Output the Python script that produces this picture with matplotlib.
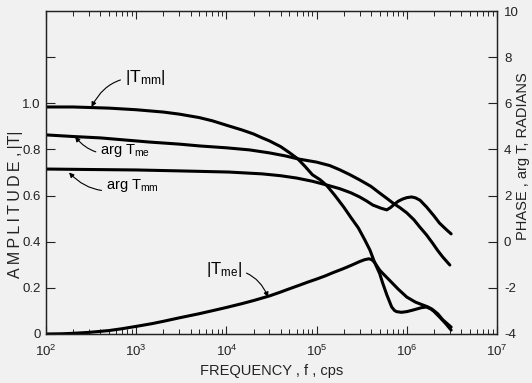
import matplotlib
matplotlib.use("Agg")
import matplotlib.pyplot as plt

plt.rcParams['font.family'] = ['Liberation Sans', 'DejaVu Sans']
plt.rcParams['mathtext.default'] = 'regular'

# |T_mm| amplitude vs frequency (cps)
f_tmm_amp = [1e2, 2e2, 5e2, 1e3, 2e3, 3e3, 5e3, 7e3, 1e4, 1.5e4, 2e4, 2.5e4, 3e4,
             4e4, 5e4, 6.2e4, 7.5e4, 9e4, 1.1e5, 1.3e5, 1.6e5, 2e5, 2.4e5, 2.9e5,
             3.4e5, 3.9e5, 4.4e5, 5e5, 5.4e5, 6e5, 6.8e5, 7.3e5, 7.7e5, 8.7e5,
             1e6, 1.15e6, 1.28e6, 1.45e6, 1.65e6, 1.85e6, 2e6, 2.3e6, 2.7e6, 3.1e6]
tmm_amp = [0.984, 0.984, 0.979, 0.972, 0.962, 0.953, 0.938, 0.924, 0.905, 0.884,
           0.867, 0.850, 0.837, 0.812, 0.786, 0.759, 0.725, 0.690, 0.668, 0.643,
           0.600, 0.550, 0.505, 0.460, 0.410, 0.364, 0.310, 0.262, 0.221, 0.170,
           0.117, 0.102, 0.097, 0.094, 0.097, 0.103, 0.108, 0.114, 0.117, 0.108,
           0.098, 0.074, 0.045, 0.017]

# |T_me| amplitude vs frequency (cps)
f_tme_amp = [1e2, 1.5e2, 2e2, 3e2, 5e2, 7e2, 1e3, 1.5e3, 2e3, 3e3, 5e3, 7e3, 1e4,
             1.5e4, 2e4, 3e4, 4e4, 5e4, 6.5e4, 8e4, 1e5, 1.25e5, 1.5e5, 2e5, 2.5e5,
             3e5, 3.4e5, 3.8e5, 4.1e5, 4.4e5, 5e5, 5.5e5, 6.4e5, 8e5, 1e6, 1.25e6,
             1.5e6, 1.7e6, 1.9e6, 2.2e6, 2.5e6, 2.8e6, 3.1e6]
tme_amp = [0.0, 0.001, 0.003, 0.007, 0.015, 0.023, 0.033, 0.045, 0.055, 0.070,
           0.088, 0.101, 0.115, 0.132, 0.145, 0.165, 0.182, 0.196, 0.212, 0.225,
           0.238, 0.252, 0.265, 0.284, 0.300, 0.314, 0.322, 0.326, 0.322, 0.310,
           0.277, 0.260, 0.234, 0.195, 0.160, 0.138, 0.126, 0.118, 0.108, 0.088,
           0.062, 0.045, 0.030]

# arg T_me phase (radians)
f_tme_arg = [1e2, 2e2, 4e2, 8e2, 1.4e3, 3e3, 5.1e3, 1e4, 1.8e4, 3e4, 4.5e4, 6.2e4,
             1e5, 1.4e5, 1.8e5, 2.3e5, 3e5, 4e5, 5e5, 6e5, 7e5, 8.5e5, 1e6, 1.2e6,
             1.39e6, 1.65e6, 1.93e6, 2.2e6, 2.5e6, 3e6]
tme_arg = [4.63, 4.56, 4.50, 4.40, 4.32, 4.23, 4.15, 4.07, 3.98, 3.85, 3.72, 3.59,
           3.45, 3.30, 3.12, 2.92, 2.68, 2.40, 2.11, 1.88, 1.68, 1.46, 1.25, 0.95,
           0.64, 0.30, -0.06, -0.38, -0.66, -1.01]

# arg T_mm phase (radians)
f_tmm_arg = [1e2, 3e2, 1e3, 3e3, 1.06e4, 2.5e4, 4e4, 6e4, 9e4, 1.29e5, 1.8e5,
             2.4e5, 3e5, 3.6e5, 4.2e5, 5.2e5, 6e5, 6.6e5, 7.3e5, 8e5, 9e5, 1e6,
             1.13e6, 1.25e6, 1.4e6, 1.66e6, 2e6, 2.3e6, 2.7e6, 3.1e6]
tmm_arg = [3.15, 3.13, 3.11, 3.07, 3.02, 2.94, 2.86, 2.76, 2.62, 2.46, 2.30, 2.12,
           1.94, 1.76, 1.59, 1.45, 1.38, 1.48, 1.63, 1.75, 1.85, 1.91, 1.94, 1.90,
           1.80, 1.50, 1.12, 0.81, 0.55, 0.34]

amp_ticks = [0, 0.2, 0.4, 0.6, 0.8, 1.0, 1.2]
amp_ticklabels = ['0', '0.2', '0.4', '0.6', '0.8', '1.0', '']
phase_ticks = [-4, -2, 0, 2, 4, 6, 8, 10]

bg = '#f1f1f1'
ink = '#222222'
fig = plt.figure(figsize=(5.32, 3.83), dpi=100, facecolor=bg)
ax = fig.add_axes([46 / 532, 1 - 334 / 383, (497 - 46) / 532, (334 - 11) / 383])
ax.set_facecolor(bg)
ax2 = ax.twinx()

style = dict(color='black', lw=2.2, solid_joinstyle='round', solid_capstyle='round')
ax.plot(f_tmm_amp, tmm_amp, **style)
ax.plot(f_tme_amp, tme_amp, **style)
ax2.plot(f_tme_arg, tme_arg, **style)
ax2.plot(f_tmm_arg, tmm_arg, **style)

ax.set_xscale('log')
ax.set_xlim(1e2, 1e7)
ax.set_ylim(0, 1.4)
ax2.set_ylim(-4, 10)

ax.set_yticks(amp_ticks)
ax.set_yticklabels(amp_ticklabels)
ax2.set_yticks(phase_ticks)
ax2.set_yticklabels([str(t) for t in phase_ticks])

for a in (ax, ax2):
    for s in a.spines.values():
        s.set_color(ink)
        s.set_linewidth(0.9)

ax.tick_params(axis='x', which='major', direction='in', top=True, bottom=True,
               length=6, width=0.8, pad=7, labelsize=9.5, color=ink, labelcolor=ink)
ax.tick_params(axis='x', which='minor', direction='in', top=True, bottom=True,
               length=3.5, width=0.7, color=ink)
ax.tick_params(axis='y', which='major', direction='in', left=True, right=False,
               length=6.5, width=0.8, pad=4, labelsize=9.5, color=ink, labelcolor=ink)
ax2.tick_params(axis='y', which='major', direction='in', right=True, left=False,
                length=6.5, width=0.8, pad=5, labelsize=9.5, color=ink, labelcolor=ink)
ax2.tick_params(axis='y', which='minor', right=False)

# widely tracked amplitude label, letters separated by thin spaces
amp_label = '\u2009'.join('AMPLITUDE') + ' ,\u2009|T|'
ax.set_xlabel('FREQUENCY , f , cps', fontsize=10.5, labelpad=4, color=ink)
ax.set_ylabel(amp_label, fontsize=11.5, color=ink)
ax.yaxis.set_label_coords(-0.051, 0.40)
ax2.set_ylabel('PHASE , arg T, RADIANS', fontsize=10.5, color=ink)
ax2.yaxis.set_label_coords(1.042, 0.55)

arrow = dict(arrowstyle='-|>', color='black', lw=0.8, mutation_scale=7,
             shrinkA=1, shrinkB=0)
ax.annotate('$|T_{mm}|$', xy=(3.2e2, 0.984), xytext=(1.25e3, 1.11), fontsize=12.5,
            ha='center', va='center',
            arrowprops=dict(connectionstyle='arc3,rad=0.35', **arrow))
ax.annotate('arg $T_{me}$', xy=(2.1e2, 0.855), xytext=(7.5e2, 0.795), fontsize=10.5,
            ha='center', va='center',
            arrowprops=dict(connectionstyle='arc3,rad=-0.35', **arrow))
ax.annotate('arg $T_{mm}$', xy=(1.8e2, 0.700), xytext=(9e2, 0.645), fontsize=10.5,
            ha='center', va='center',
            arrowprops=dict(connectionstyle='arc3,rad=-0.35', **arrow))
ax.annotate('$|T_{me}|$', xy=(2.9e4, 0.16), xytext=(9.5e3, 0.28), fontsize=12,
            ha='center', va='center',
            arrowprops=dict(connectionstyle='arc3,rad=-0.35', **arrow))

fig.savefig('out.png', dpi=100, facecolor=bg)
